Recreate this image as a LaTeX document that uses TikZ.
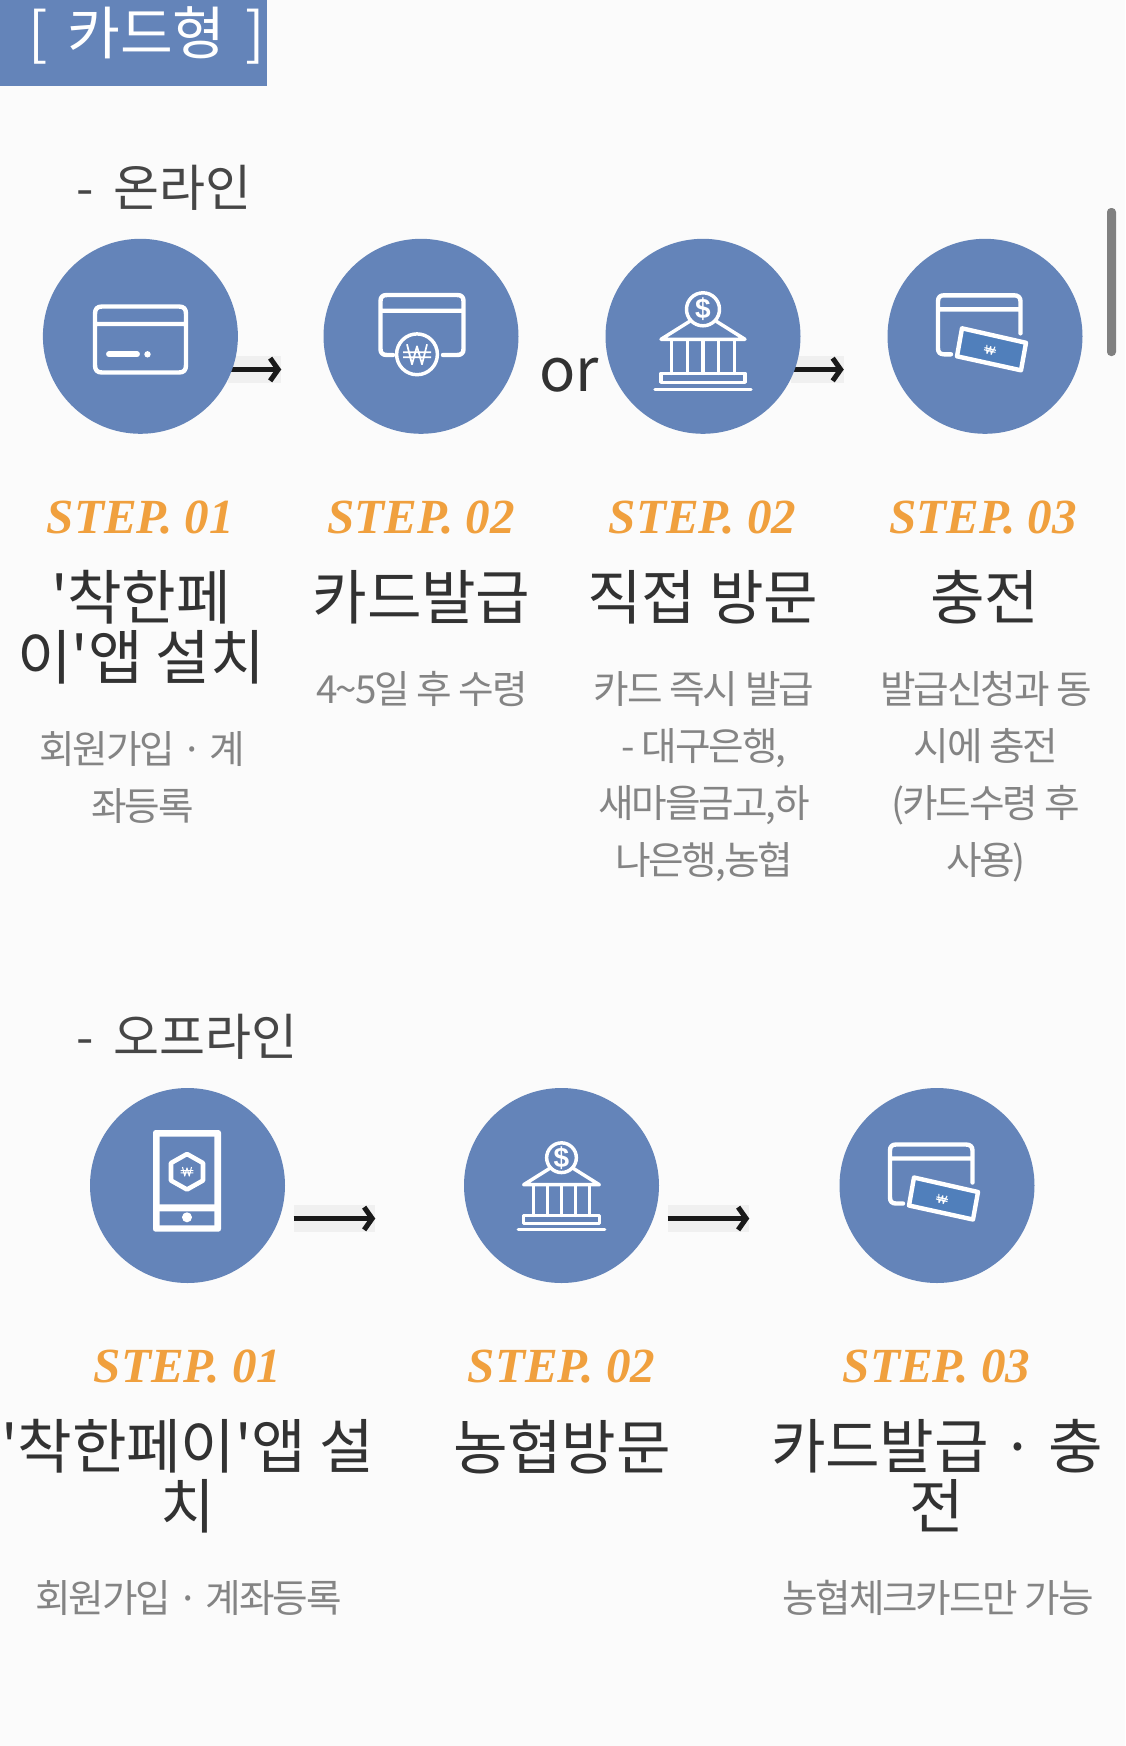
\documentclass[tikz,border=0pt]{standalone}
\usepackage{fontspec}
\setmainfont{Noto Sans CJK KR}
\newfontfamily\stepfont{Liberation Serif}
\newfontfamily\coinfont{Liberation Sans}
\usetikzlibrary{arrows.meta}
\definecolor{pagegray}{RGB}{251,251,251}
\definecolor{cardblue}{RGB}{100,132,185}
\definecolor{noteblue}{RGB}{80,127,187}
\definecolor{stepgold}{RGB}{240,160,62}
\definecolor{titlegray}{RGB}{50,50,50}
\definecolor{descgray}{RGB}{132,132,132}
\tikzset{
  stepcircle/.style={circle,fill=cardblue,minimum size=146.25pt,inner sep=0pt},
  arrowbox/.style={fill=black!6,minimum height=20pt,inner sep=0pt},
  arrowline/.style={line width=3.4pt,black!90,-{Straight Barb[length=6pt,width=17pt,line width=3.8pt]}},
  steplabel/.style={font=\stepfont\bfseries\itshape\fontsize{36.8}{40}\selectfont,text=stepgold,inner sep=0.75pt},
  titletext/.style={font=\fontsize{44.5}{45}\selectfont\addfontfeature{LetterSpace=-0.5},text=titlegray,align=center,inner sep=0.75pt},
  desctext/.style={font=\fontsize{29}{42.75}\selectfont\addfontfeature{LetterSpace=-5.5},text=descgray,align=center,inner sep=0.75pt},
  sectiontext/.style={font=\fontsize{37.5}{40}\selectfont,text=titlegray!90,anchor=west,inner sep=0.75pt},
  iconline/.style={draw=white,line width=3.3pt,line cap=round,line join=round},
  bankline/.style={draw=white,line width=2.6pt,line cap=round,line join=round},
  upicon/.style={yscale=-1},
  pics/wonmark/.style={code={
    \draw [white,line join=round] (-10,-10) -- (-5,10) -- (0,-8) -- (5,10) -- (10,-10) (-14,-2) -- (14,-2) (-14,3) -- (14,3) ;
  }},
  pics/notecard/.style={code={
    \draw [iconline] (-34,18) -- (-41,18) .. controls (-45,18) and (-47,16) .. (-47,12) -- (-47,-35) .. controls (-47,-39) and (-45,-41) .. (-41,-41) -- (29,-41) .. controls (33,-41) and (35.5,-39) .. (35.5,-35) -- (35.5,-3) (-47,-27) -- (35.5,-27) ;
    \draw [iconline,fill=noteblue,line cap=butt] (-23,-8) -- (41,6.5) -- (36,34) -- (-28,20) -- cycle ;
    \pic [line width=0.8pt,scale=0.42,rotate=-13,upicon] at (5,13.5) {wonmark};
  }},
  pics/bankicon/.style={code={
    \draw [bankline] (0,-27) circle (16.5) ;
    \draw (0,-27) node (-dollar) [text=white,inner sep=0pt,font=\coinfont\bfseries\fontsize{21}{21}\selectfont] {\$};
    \draw [bankline] (-13.3,-15) -- (-42,3) -- (42,3) -- (13.3,-15) ;
    \draw [bankline] (-31.4,5) -- (-31.4,37) (-15.5,5) -- (-15.5,37) (0,5) -- (0,37) (15.5,5) -- (15.5,37) (31.4,5) -- (31.4,37) ;
    \draw [bankline] (-42,37) rectangle (42,46) ;
    \draw [bankline] (-48,53) -- (48,53) ;
  }}
}
\begin{document}
\begin{tikzpicture}[x=0.75pt,y=0.75pt,yscale=-1,xscale=1]
    \useasboundingbox (0,0) rectangle (1125,1746);
    \fill [pagegray] (0,0) rectangle (1125,1746);

    %Header
    \fill [cardblue] (0,0) rectangle (267,86);
    \draw (146.5,35) node (headline) [text=white,inner sep=0.75pt,font=\fontsize{43}{45}\selectfont] {[\hspace{15pt}카드형\hspace{15pt}]};
    %Scroll bar
    \fill [gray,rounded corners=3pt] (1107,208) rectangle (1116,356);

    % Section Node
    \draw (75,188) node (online) [sectiontext] {-\hspace{15pt}온라인};
    \draw (75,1037) node (offline) [sectiontext] {-\hspace{15pt}오프라인};

    %Arrows online
    \draw (254.5,369.5) node (boxA) [arrowbox,minimum width=39.75pt] {};
    \draw [arrowline] (boxA.west) -- (boxA.east);
    \draw (817,369.5) node (boxB) [arrowbox,minimum width=39.75pt] {};
    \draw [arrowline] (boxB.west) -- (boxB.east);
    %Arrows offline
    \draw (334.5,1218.5) node (boxC) [arrowbox,minimum width=60.75pt] {};
    \draw [arrowline] (boxC.west) -- (boxC.east);
    \draw (708.5,1218.5) node (boxD) [arrowbox,minimum width=60.75pt] {};
    \draw [arrowline] (boxD.west) -- (boxD.east);

    %Circles online
    \draw (140.4,336.3) node (onlineA) [stepcircle] {};
    \draw (421,336.3) node (onlineB) [stepcircle] {};
    \draw (703,336.3) node (onlineC) [stepcircle] {};
    \draw (985,336.3) node (onlineD) [stepcircle] {};
    %Circles offline
    \draw (187.5,1185.5) node (offlineA) [stepcircle] {};
    \draw (561.5,1185.5) node (offlineB) [stepcircle] {};
    \draw (937,1185.5) node (offlineC) [stepcircle] {};

    %Card icon
    \draw [iconline] (95,314) .. controls (95,309) and (97,306.5) .. (102,306.5) -- (179,306.5) .. controls (184,306.5) and (186,309) .. (186,314) -- (186,365) .. controls (186,370) and (184,372.5) .. (179,372.5) -- (102,372.5) .. controls (97,372.5) and (95,370) .. (95,365) -- cycle (95,324) -- (186,324) ;
    \draw [white,line width=4.4pt,line cap=round] (109,354.3) -- (137,354.3) ;
    \fill [white] (147.5,354.3) circle (3.2) ;
    %Card with coin icon
    \draw [iconline] (393,355) -- (387,355) .. controls (382.5,355) and (380.5,353) .. (380.5,349) -- (380.5,301) .. controls (380.5,297) and (382.5,295) .. (387,295) -- (457,295) .. controls (461.5,295) and (463.5,297) .. (463.5,301) -- (463.5,349) .. controls (463.5,353) and (461.5,355) .. (457,355) -- (443,355) (380.5,310.7) -- (463.5,310.7) ;
    \draw [bankline] (417,354.3) circle (20.4) ;
    \pic [line width=1.3pt,upicon] at (417,354.3) {wonmark};
    %Bank icon
    \pic [upicon] at (703,336.3) {bankicon};
    %Note card icon
    \pic [upicon] at (985,336.3) {notecard};

    %Phone icon
    \fill [white,rounded corners=2pt] (153,1130) rectangle (221,1231.7) ;
    \fill [cardblue] (159.7,1136.7) rectangle (214.3,1204.3) (159.7,1211.3) rectangle (214.3,1225.3) ;
    \fill [white] (187,1217.3) circle (5) ;
    \draw [iconline,line width=3.4pt] (187,1154) -- (203,1163) -- (203,1180.5) -- (187,1189.5) -- (171,1180.5) -- (171,1163) -- cycle ;
    \pic [line width=0.8pt,scale=0.45,upicon] at (187,1171.5) {wonmark};
    %Bank and note card icons, offline
    \pic [scale=0.9,upicon] at (561.5,1182) {bankicon};
    \pic [upicon] at (937,1185.5) {notecard};

    % Text Node
    \draw (569,375) node (orword) [font=\fontsize{45}{46}\selectfont,text=titlegray,inner sep=0.75pt] {or};

    %Online column A
    \draw (140.4,518) node (stepA) [steplabel] {STEP. 01};
    \draw (141,627) node (titleA) [titletext] {\textquotesingle 착한페\\이\textquotesingle 앱 설치};
    \draw (142.4,777.5) node (descA) [desctext] {회원가입 · 계\\좌등록};
    %Online column B
    \draw (421,518) node (stepB) [steplabel] {STEP. 02};
    \draw (421.5,597) node (titleB) [titletext] {카드발급};
    \draw (422,689.5) node (descB) [desctext] {4\textasciitilde 5일 후 수령};
    %Online column C
    \draw (702.5,518) node (stepC) [steplabel] {STEP. 02};
    \draw (703,597) node (titleC) [titletext] {직접 방문};
    \draw (704,776.5) node (descC) [desctext] {카드 즉시 발급\\- 대구은행,\\새마을금고,하\\나은행,농협};
    %Online column D
    \draw (983,518) node (stepD) [steplabel] {STEP. 03};
    \draw (984.5,597) node (titleD) [titletext] {충전};
    \draw (986,776.5) node (descD) [desctext] {발급신청과 동\\시에 충전\\(카드수령 후\\사용)};

    %Offline column A
    \draw (187.5,1367) node (stepE) [steplabel] {STEP. 01};
    \draw (187.5,1476) node (titleE) [titletext] {\textquotesingle 착한페이\textquotesingle 앱 설\\치};
    \draw (188.5,1597.5) node (descE) [desctext] {회원가입 · 계좌등록};
    %Offline column B
    \draw (561.5,1367) node (stepF) [steplabel] {STEP. 02};
    \draw (562,1447) node (titleF) [titletext] {농협방문};
    %Offline column C
    \draw (936.5,1367) node (stepG) [steplabel] {STEP. 03};
    \draw (937,1476) node (titleG) [titletext] {카드발급 · 충\\전};
    \draw (938,1597.5) node (descG) [desctext] {농협체크카드만 가능};
\end{tikzpicture}
\end{document}
